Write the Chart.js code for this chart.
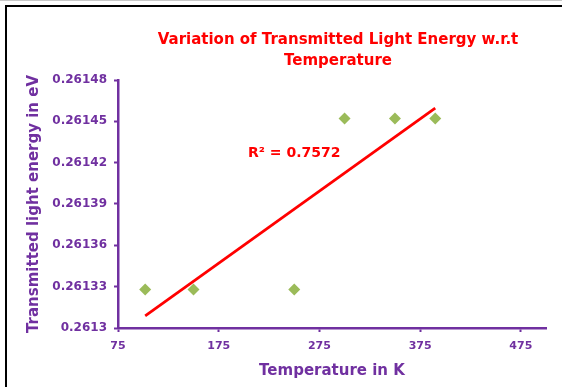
<!DOCTYPE html>
<html><head><meta charset="utf-8">
<script src="https://cdn.jsdelivr.net/npm/chart.js@4/dist/chart.umd.min.js"></script>
<style>
html,body{margin:0;padding:0;background:#fff;overflow:hidden;}
#wrap{position:relative;width:562px;height:387px;overflow:hidden;}
#frame{position:absolute;left:5px;top:5px;width:620px;height:440px;border-top:2px solid #000;border-left:2px solid #000;pointer-events:none;}
#topline{position:absolute;left:0;top:0;width:562px;height:1px;background:#c8c8c8;}
canvas{position:absolute;left:0;top:0;}
</style></head>
<body><div id="wrap"><canvas id="c" width="562" height="387"></canvas><div id="topline"></div><div id="frame"></div></div>
<script>
// ---- data ----
const titleLines = ['Variation of Transmitted Light Energy w.r.t', 'Temperature'];
const xAxisTitle = 'Temperature in K';
const yAxisTitle = 'Transmitted light energy in eV';
const temperatures = [102, 150, 250, 300, 350, 390];
const energies = [0.261328, 0.261328, 0.261328, 0.261452, 0.261452, 0.261452];
const xTicks = [75, 175, 275, 375, 475];
const xTickLabels = ['75', '175', '275', '375', '475'];
const yTicks = [0.2613, 0.26133, 0.26136, 0.26139, 0.26142, 0.26145, 0.26148];
const yTickLabels = ['0.2613', '0.26133', '0.26136', '0.26139', '0.26142', '0.26145', '0.26148'];
const rSquaredLabel = 'R\u00B2 = 0.7572';

// ---- linear trendline (least squares of the data above) ----
const n = temperatures.length;
const mx = temperatures.reduce((a, b) => a + b, 0) / n;
const my = energies.reduce((a, b) => a + b, 0) / n;
let sxy = 0, sxx = 0;
for (let i = 0; i < n; i++) { sxy += (temperatures[i] - mx) * (energies[i] - my); sxx += (temperatures[i] - mx) ** 2; }
const slope = sxy / sxx, intercept = my - slope * mx;
const tMin = Math.min(...temperatures), tMax = Math.max(...temperatures);
const trendPoints = [{x: tMin, y: intercept + slope * tMin}, {x: tMax, y: intercept + slope * tMax}];

const purple = '#7030A0';
const FONT = '"DejaVu Sans", Verdana, sans-serif';

const decor = {
  id: 'decor',
  afterDraw(chart) {
    const ctx = chart.ctx;
    ctx.save();
    ctx.fillStyle = '#FF0000';
    ctx.textAlign = 'center';
    ctx.textBaseline = 'middle';
    ctx.font = 'bold 15px ' + FONT;
    ctx.fillText(titleLines[0], 338, 40);
    ctx.fillText(titleLines[1], 338, 61);
    ctx.font = 'bold 14px ' + FONT;
    const px = chart.scales.x.getPixelForValue(250);
    const py = chart.scales.y.getPixelForValue(0.261427);
    ctx.fillText(rSquaredLabel, px, py);
    ctx.restore();
  }
};

new Chart(document.getElementById('c'), {
  type: 'scatter',
  data: {
    datasets: [
      {
        label: 'Trend',
        data: trendPoints,
        showLine: true,
        borderColor: '#FF0000',
        borderWidth: 2.8,
        pointRadius: 0,
        fill: false,
        order: 2
      },
      {
        label: 'Energy',
        data: temperatures.map((t, i) => ({x: t, y: energies[i]})),
        pointStyle: 'rectRot',
        pointRadius: 6,
        pointBackgroundColor: '#9BBB59',
        pointBorderColor: '#9BBB59',
        pointBorderWidth: 0,
        showLine: false,
        order: 1
      }
    ]
  },
  options: {
    responsive: false,
    animation: false,
    devicePixelRatio: 1,
    layout: {padding: {top: 80, right: 16, bottom: 0, left: 0}},
    plugins: {legend: {display: false}, tooltip: {enabled: false}, title: {display: false}},
    scales: {
      x: {
        type: 'linear',
        min: 75, max: 500,
        afterBuildTicks: s => { s.ticks = xTicks.map(v => ({value: v})); },
        afterFit: s => { s.height = 59; },
        ticks: {
          callback: (v, i) => xTickLabels[i],
          color: purple, autoSkip: false, maxRotation: 0, padding: 8,
          font: {family: FONT, weight: 'bold', size: 11}
        },
        grid: {drawOnChartArea: false, drawTicks: true, tickLength: 4, tickColor: purple, tickWidth: 2},
        border: {display: true, color: purple, width: 2.5},
        title: {display: true, text: xAxisTitle, color: purple, font: {family: FONT, weight: 'bold', size: 15}, padding: {top: 0, bottom: 7}}
      },
      y: {
        type: 'linear',
        min: 0.2613, max: 0.26148,
        afterBuildTicks: s => { s.ticks = yTicks.map(v => ({value: v})); },
        afterFit: s => { s.width = 118; },
        ticks: {
          callback: (v, i) => yTickLabels[i],
          color: purple, autoSkip: false, padding: 7,
          font: {family: FONT, weight: 'bold', size: 12}
        },
        grid: {drawOnChartArea: false, drawTicks: true, tickLength: 4, tickColor: purple, tickWidth: 2},
        border: {display: true, color: purple, width: 2.5},
        title: {display: true, text: yAxisTitle, color: purple, font: {family: FONT, weight: 'bold', size: 15}, padding: {top: 25, bottom: 0}}
      }
    }
  },
  plugins: [decor]
});
</script>
</body></html>
